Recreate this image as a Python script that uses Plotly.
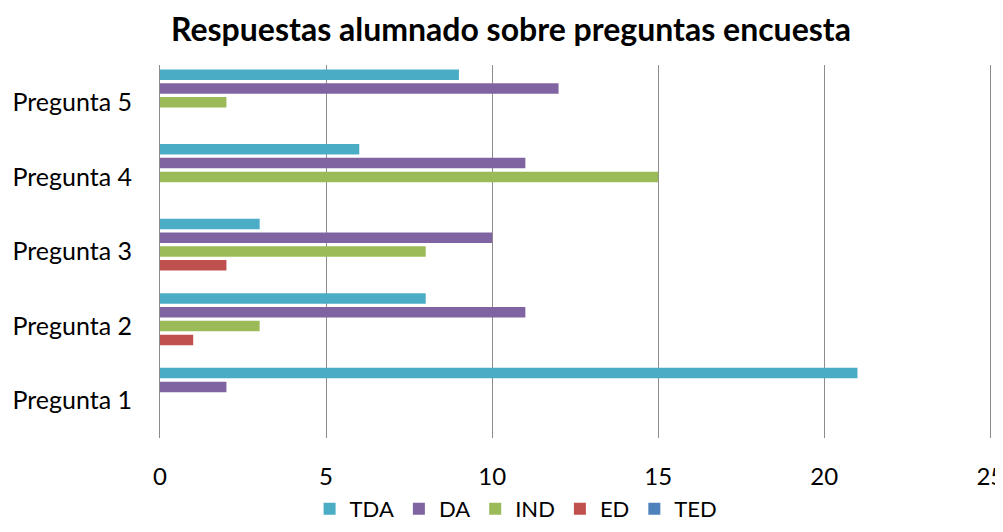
import plotly.graph_objects as go

preguntas = ["Pregunta 1", "Pregunta 2", "Pregunta 3", "Pregunta 4", "Pregunta 5"]
series_names = ["TDA", "DA", "IND", "ED", "TED"]
tda = [21, 8, 3, 6, 9]
da = [2, 11, 10, 11, 12]
ind = [0, 3, 8, 15, 2]
ed = [0, 1, 2, 0, 0]
ted = [0, 0, 0, 0, 0]
x_ticks = [0, 5, 10, 15, 20, 25]

colors = {"TDA": "#4BACC6", "DA": "#8064A2", "IND": "#9BBB59", "ED": "#C0504D", "TED": "#4F81BD"}
values = {"TDA": tda, "DA": da, "IND": ind, "ED": ed, "TED": ted}

fig = go.Figure()
# add in reverse so TDA appears at the top of each group
for name in reversed(series_names):
    fig.add_trace(go.Bar(
        y=preguntas, x=values[name], name=name, orientation="h",
        marker=dict(color=colors[name], line=dict(width=0)),
    ))

font_family = "Lato, 'Open Sans', sans-serif"
fig.update_layout(
    width=987, height=516,
    margin=dict(l=152, r=3, t=57, b=86, autoexpand=False),
    paper_bgcolor="white", plot_bgcolor="white",
    barmode="group", bargap=0.075, bargroupgap=0.24,
    title=dict(text="<b>Respuestas alumnado sobre preguntas encuesta</b>",
               x=0.5096, xanchor="center", y=0.957, yanchor="middle",
               font=dict(family=font_family, size=32, color="black")),
    font=dict(family=font_family, color="black"),
    showlegend=True,
    legend=dict(orientation="h", traceorder="reversed", x=0.428, xanchor="center",
                y=-0.19, yanchor="middle", font=dict(size=22),
                itemwidth=30, tracegroupgap=0),
    xaxis=dict(range=[0, 25.05], tickvals=x_ticks, showgrid=True, gridcolor="#8c8c8c",
               gridwidth=1, zeroline=False, showline=False,
               ticks="", tickfont=dict(size=24), ticklabelstandoff=22,
               ticklabeloverflow="allow", fixedrange=True),
    yaxis=dict(showgrid=False, showline=True, linecolor="#8c8c8c", linewidth=1,
               ticks="", tickfont=dict(size=25), ticklabelstandoff=22,
               automargin=False, fixedrange=True),
)

fig.write_html("out.html")
